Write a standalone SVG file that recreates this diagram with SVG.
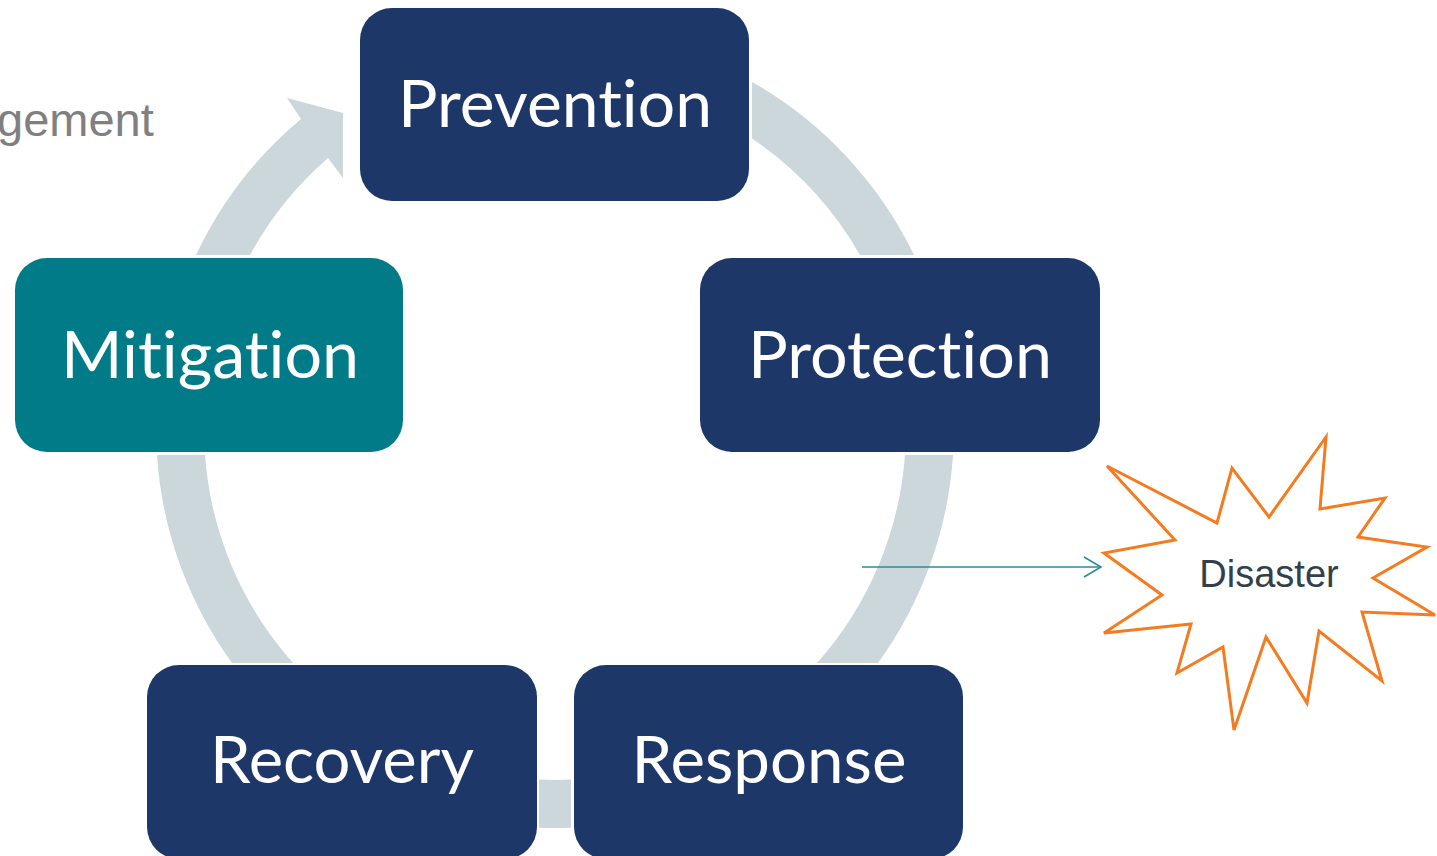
<svg xmlns="http://www.w3.org/2000/svg" width="1437" height="856" viewBox="0 0 1437 856">
<defs>
<style>
.ring{fill:#cbd7db;}
.box{fill:#1d3769;}
.boxt{fill:#007b87;}
.lbl{font-family:Lato,"Open Sans","Liberation Sans",sans-serif;font-size:66px;fill:#ffffff;text-anchor:middle;font-variant-ligatures:none;font-feature-settings:"liga" 0;}
.star{fill:#ffffff;stroke:#f47b20;stroke-width:3;stroke-linejoin:miter;}
.conn{stroke:#2b8c99;stroke-width:1.6;fill:none;}
</style>
<marker id="open" markerUnits="userSpaceOnUse" markerWidth="24" markerHeight="26" refX="18" refY="11" orient="auto" viewBox="0 0 24 26">
<path d="M1,1 L18,11 L1,21" fill="none" stroke="#2b8c99" stroke-width="1.6"/>
</marker>
</defs>
<rect width="1437" height="856" fill="#ffffff"/>
<text x="-3" y="136" font-family="'Liberation Sans',Arial,sans-serif" font-size="47" fill="#808080">gement</text>
<g id="cycle-ring">
<path class="ring" d="M752,82 A399,399 0 0 1 914,255 L860,255 A351,351 0 0 0 752,138.5 Z"/>
<path class="ring" d="M953,455 A399,399 0 0 1 878,663 L817,663 A351,351 0 0 0 905,455 Z"/>
<path class="ring" d="M571,827.7 A399,399 0 0 1 539,827.7 L539,779.6 A351,351 0 0 0 571,779.6 Z"/>
<path class="ring" d="M232,663 A399,399 0 0 1 157,455 L205,455 A351,351 0 0 0 293,663 Z"/>
<path class="ring" d="M196,255 A399,399 0 0 1 301,119 L287,98 L343,113 L343,178 L328,158 A351,351 0 0 0 250,255 Z"/>
</g>
<g id="prevention">
<rect class="box" x="360" y="8" width="389" height="193" rx="32"/>
<text class="lbl" x="555" y="127" textLength="314" lengthAdjust="spacingAndGlyphs">Prevention</text>
</g>
<g id="protection">
<rect class="box" x="700" y="258" width="400" height="194" rx="32"/>
<text class="lbl" x="900" y="378" textLength="304" lengthAdjust="spacingAndGlyphs">Protection</text>
</g>
<g id="mitigation">
<rect class="boxt" x="15" y="258" width="388" height="194" rx="32"/>
<text class="lbl" x="210" y="378" textLength="298" lengthAdjust="spacingAndGlyphs">Mitigation</text>
</g>
<g id="recovery">
<rect class="box" x="147" y="665" width="390" height="194" rx="32"/>
<text class="lbl" x="342" y="783" textLength="264" lengthAdjust="spacingAndGlyphs">Recovery</text>
</g>
<g id="response">
<rect class="box" x="574" y="665" width="389" height="194" rx="32"/>
<text class="lbl" x="769" y="783" textLength="275" lengthAdjust="spacingAndGlyphs">Response</text>
</g>
<g id="disaster">
<polygon class="star" points="1107,466 1217,523 1232,468 1269,517 1326,437 1320,509 1385,498 1358,537 1427,547 1373,578 1435,615 1362,612 1382,681 1319,631 1307,703 1266,637 1234,730 1223,647 1177,673 1191,624 1104,633 1162,595 1104,553 1175,540"/>
<text x="1269" y="587" font-family="'Liberation Sans',Arial,sans-serif" font-size="38" fill="#333f4a" text-anchor="middle">Disaster</text>
</g>
<g id="connectors">
<line class="conn" x1="862" y1="567" x2="1101" y2="567" marker-end="url(#open)"/>
</g>
</svg>
